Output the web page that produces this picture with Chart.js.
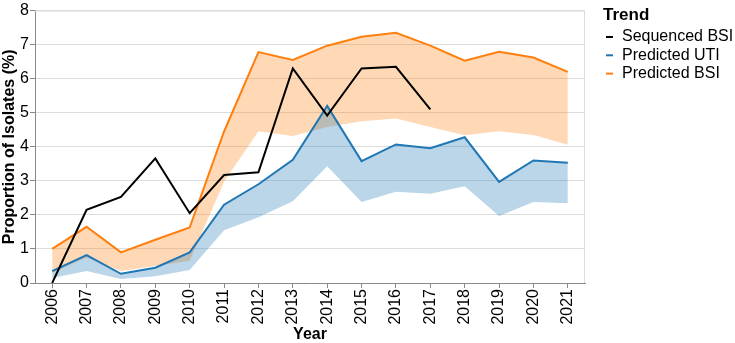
<!doctype html>
<html>
<head>
<meta charset="utf-8">
<title>Proportion of Isolates</title>
<script src="https://cdn.jsdelivr.net/npm/chart.js@4.4.1/dist/chart.umd.min.js"></script>
<style>
  body { margin: 0; background: #fff; }
  #holder { width: 735px; height: 343px; }
</style>
</head>
<body>
<div id="holder"><canvas id="chart"></canvas></div>
<script>
var years = ['2006', '2007', '2008', '2009', '2010', '2011', '2012', '2013',
             '2014', '2015', '2016', '2017', '2018', '2019', '2020', '2021'];
var sequencedBSI = [0, 2.15, 2.53, 3.66, 2.05, 3.17, 3.25, 6.3, 4.92, 6.3, 6.35, 5.1,
                    null, null, null, null];
var predictedUTI = [0.35, 0.82, 0.27, 0.45, 0.9, 2.3, 2.9, 3.62, 5.2, 3.58, 4.07, 3.96,
                    4.28, 2.97, 3.6, 3.53];
var predictedUTILow = [0.15, 0.35, 0.12, 0.2, 0.38, 1.55, 1.93, 2.4, 3.43, 2.38, 2.68, 2.62,
                       2.84, 1.97, 2.38, 2.34];
var predictedBSI = [1.0, 1.65, 0.9, 1.27, 1.63, 4.45, 6.78, 6.55, 6.97, 7.23, 7.35, 6.97,
                    6.53, 6.79, 6.62, 6.2];
var predictedBSILow = [0.3, 0.75, 0.35, 0.5, 0.65, 2.97, 4.46, 4.32, 4.58, 4.75, 4.83, 4.58,
                       4.34, 4.46, 4.35, 4.06];
var yTicks = [0, 1, 2, 3, 4, 5, 6, 7, 8];

var FONT = '"Liberation Sans", Arial, sans-serif';
var colors = { seq: '#000000', uti: '#1f77b4', bsi: '#ff7f0e' };

// border round the plot area, like the vega view stroke
var frame = {
    id: 'frame',
    beforeDatasetsDraw: function(chart) {
        var a = chart.chartArea, ctx = chart.ctx;
        ctx.save();
        ctx.strokeStyle = '#dddddd';
        ctx.lineWidth = 1;
        ctx.beginPath();
        ctx.moveTo(a.left, a.top + 0.5);
        ctx.lineTo(a.right - 0.5, a.top + 0.5);
        ctx.lineTo(a.right - 0.5, a.bottom);
        ctx.stroke();
        ctx.restore();
    }
};

// legend drawn by hand on the right
var trendLegend = {
    id: 'trendLegend',
    afterDraw: function(chart) {
        var ctx = chart.ctx;
        var x = chart.chartArea.right + 18;
        ctx.save();
        ctx.fillStyle = '#000';
        ctx.textBaseline = 'middle';
        ctx.font = 'bold 17px ' + FONT;
        ctx.fillText('Trend', x, 15);
        ctx.font = '16px ' + FONT;
        var items = chart.data.datasets.filter(function(d) { return d.inLegend; });
        items.forEach(function(d, i) {
            var y = 37 + i * 18.3;
            ctx.strokeStyle = d.borderColor;
            ctx.lineWidth = 2;
            ctx.beginPath();
            ctx.moveTo(x + 3, y);
            ctx.lineTo(x + 10, y);
            ctx.stroke();
            ctx.fillText(d.label, x + 19, y);
        });
        ctx.restore();
    }
};

var ctx = document.getElementById('chart').getContext('2d');
window.myChart = new Chart(ctx, {
    type: 'line',
    data: {
        labels: years,
        datasets: [{
            label: 'Sequenced BSI',
            inLegend: true,
            data: sequencedBSI,
            borderColor: colors.seq,
            borderWidth: 2,
            pointRadius: 0,
            fill: false,
            spanGaps: false
        }, {
            label: 'Predicted UTI',
            inLegend: true,
            data: predictedUTI,
            borderColor: colors.uti,
            backgroundColor: 'rgba(31,119,180,0.3)',
            borderWidth: 2,
            pointRadius: 0,
            fill: 3
        }, {
            label: 'Predicted BSI',
            inLegend: true,
            data: predictedBSI,
            borderColor: colors.bsi,
            backgroundColor: 'rgba(255,127,14,0.3)',
            borderWidth: 2,
            pointRadius: 0,
            fill: 4
        }, {
            label: 'UTI lower',
            data: predictedUTILow,
            borderWidth: 0,
            borderColor: 'rgba(0,0,0,0)',
            pointRadius: 0,
            fill: false
        }, {
            label: 'BSI lower',
            data: predictedBSILow,
            borderWidth: 0,
            borderColor: 'rgba(0,0,0,0)',
            pointRadius: 0,
            fill: false
        }]
    },
    options: {
        responsive: true,
        maintainAspectRatio: false,
        animation: false,
        layout: { padding: { top: 7, right: 150, left: 0, bottom: 0 } },
        plugins: {
            legend: { display: false },
            tooltip: { enabled: false }
        },
        scales: {
            x: {
                offset: true,
                grid: {
                    drawOnChartArea: false,
                    drawTicks: true,
                    tickLength: 5,
                    tickColor: '#888888'
                },
                border: { color: '#888888', width: 1 },
                ticks: {
                    color: '#000',
                    font: { family: FONT, size: 16 },
                    minRotation: 90,
                    maxRotation: 90,
                    padding: 1,
                    autoSkip: false
                },
                title: {
                    display: true,
                    text: 'Year',
                    color: '#000',
                    font: { family: FONT, size: 16, weight: 'bold', lineHeight: 1 },
                    padding: { top: 0, bottom: 0 }
                },
                afterFit: function(scale) { scale.height = 60; }
            },
            y: {
                min: 0,
                max: 8,
                afterBuildTicks: function(scale) {
                    scale.ticks = yTicks.map(function(v) { return { value: v }; });
                },
                grid: {
                    color: '#dddddd',
                    tickColor: '#888888',
                    tickLength: 5
                },
                border: { color: '#888888', width: 1 },
                ticks: {
                    color: '#000',
                    font: { family: FONT, size: 16 },
                    padding: 1
                },
                title: {
                    display: true,
                    text: 'Proportion of Isolates (%)',
                    color: '#000',
                    font: { family: FONT, size: 16, weight: 'bold' },
                    padding: { top: 0, bottom: 0 }
                },
                afterFit: function(scale) { scale.width = 35; }
            }
        }
    },
    plugins: [frame, trendLegend]
});
</script>
</body>
</html>
